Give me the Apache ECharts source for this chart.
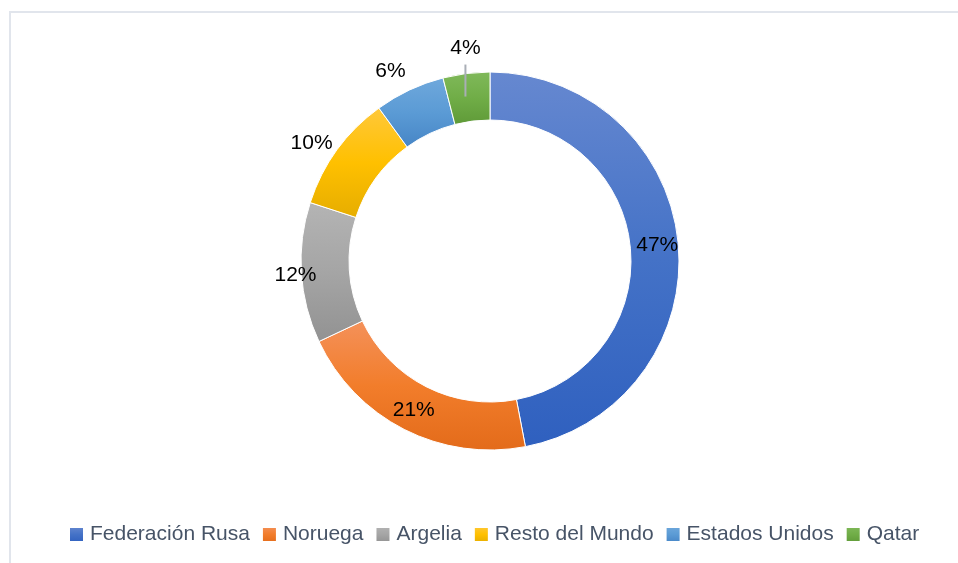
<!DOCTYPE html>
<html>
<head>
<meta charset="utf-8">
<script src="https://cdn.jsdelivr.net/npm/echarts@6/dist/echarts.min.js"></script>
<style>
  html, body { margin: 0; padding: 0; background: #ffffff; overflow: hidden; }
  #wrap { position: relative; width: 958px; height: 563px; overflow: hidden; }
  #frame { position: absolute; left: 9px; top: 11px; width: 2000px; height: 2000px;
           border-left: 2px solid #e1e5ec; border-top: 2px solid #e1e5ec; box-sizing: border-box; }
  #chart { position: absolute; left: 0; top: 0; width: 958px; height: 563px; }
</style>
</head>
<body>
<div id="wrap">
  <div id="frame"></div>
  <div id="chart"></div>
</div>
<script>
// ---- data ----
const categories = ['Federación Rusa', 'Noruega', 'Argelia', 'Resto del Mundo', 'Estados Unidos', 'Qatar'];
const values = [47, 21, 12, 10, 6, 4];

// ---- styles ----
const gradients = [
  ['#6688d0', '#4472c7', '#2f60bf'],
  ['#f4915a', '#f27d2b', '#e36b1a'],
  ['#b4b4b4', '#a5a5a5', '#929292'],
  ['#ffc83a', '#ffc000', '#e6ad00'],
  ['#6fa8dc', '#5b9bd5', '#4685c6'],
  ['#80b95a', '#70ad47', '#5f9a38']
];
const FONT = '"Liberation Sans", Arial, sans-serif';
const CENTER = [490, 261];

function grad(c) {
  return {
    type: 'linear', x: 0, y: 0, x2: 0, y2: 1,
    colorStops: [{ offset: 0, color: c[0] }, { offset: 0.5, color: c[1] }, { offset: 1, color: c[2] }]
  };
}

const labelBase = { color: '#000000', fontFamily: FONT, fontSize: 21 };

function mainData() {
  return categories.map((n, i) => ({
    name: n, value: values[i],
    itemStyle: { color: grad(gradients[i]) },
    label: { show: i < 2, position: 'inside', formatter: '{d}%', ...labelBase }
  }));
}

function labelRing(showIdx, rich) {
  return categories.map((n, i) => ({
    name: n, value: values[i],
    itemStyle: { color: 'rgba(0,0,0,0)', borderWidth: 0 },
    label: showIdx.indexOf(i) >= 0
      ? (rich ? { show: true, position: 'inside', formatter: '{t|{d}%}\n{g|}\n{b|}',
                  rich: {
                    t: { ...labelBase, lineHeight: 24, align: 'center' },
                    g: { height: 4, width: 2, align: 'center' },
                    b: { height: 32, width: 2, backgroundColor: '#a9aeb6', align: 'center' }
                  } }
              : { show: true, position: 'inside', formatter: '{d}%', ...labelBase })
      : { show: false }
  }));
}

const common = {
  type: 'pie', center: CENTER, startAngle: 90, clockwise: true,
  avoidLabelOverlap: false, percentPrecision: 0,
  labelLine: { show: false }, emphasis: { disabled: true }
};

const chart = echarts.init(document.getElementById('chart'), null, { renderer: 'canvas' });
chart.setOption({
  animation: false,
  backgroundColor: 'transparent',
  legend: {
    data: categories,
    bottom: 13,
    left: 63,
    itemWidth: 15, itemHeight: 15, itemGap: 11,
    icon: 'rect',
    textStyle: { color: '#475467', fontFamily: FONT, fontSize: 21, padding: [0, 0, 0, 1] },
    selectedMode: false
  },
  series: [
    { ...common, name: 'main', radius: [141, 189],
      itemStyle: { borderColor: '#ffffff', borderWidth: 1 },
      data: mainData(), z: 2 },
    { ...common, name: 'lblA', radius: [182, 202], startAngle: 90.5, silent: true, legendHoverLink: false,
      data: labelRing([2], false), z: 3 },
    { ...common, name: 'lblB', radius: [201, 221], startAngle: 92.5, silent: true, legendHoverLink: false,
      data: labelRing([3, 4], false), z: 3 },
    { ...common, name: 'lblC', radius: [183, 203], silent: true, legendHoverLink: false,
      data: labelRing([5], true), z: 3 }
  ]
});
</script>
</body>
</html>
